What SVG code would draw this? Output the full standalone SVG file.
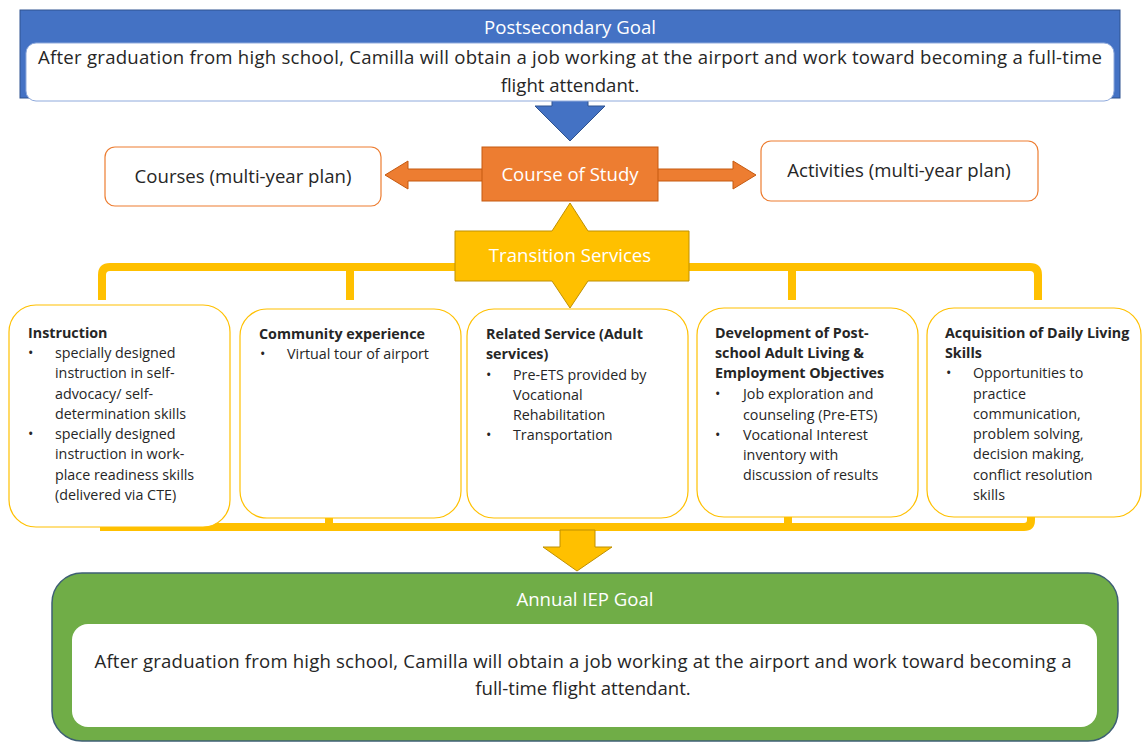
<svg xmlns="http://www.w3.org/2000/svg" width="1143" height="742" viewBox="0 0 1143 742">
  <style>
    text { font-family: "Open Sans", "Liberation Sans", sans-serif; fill: #262626; }
    .big { font-size: 18.6px; }
    .mid { font-size: 18.6px; }
    .light { fill: #ffffff; }
    .c { text-anchor: middle; }
    .item { font-size: 14.3px; }
    .head { font-size: 14.3px; font-weight: bold; }
    .svc { fill: #ffffff; stroke: #FFC000; stroke-width: 1.2; }
    .plan { fill: #ffffff; stroke: #ED7D31; stroke-width: 1.2; }
    .bar { fill: none; stroke: #FFC000; stroke-width: 8; stroke-linejoin: round; stroke-linecap: butt; }
  </style>

  <rect width="1143" height="742" fill="#ffffff"/>

  <!-- connectors -->
  <g id="connectors">
    <!-- goal down to course of study -->
    <path d="M552,96 H588 V106 H605 L570,141 L535,106 H552 Z" fill="#4472C4" stroke="#2F528F" stroke-width="1"/>
    <!-- course of study out to courses and activities -->
    <path d="M385,175 L408,161 V169 H733 V161 L756,175 L733,189 V181 H408 V189 Z" fill="#ED7D31" stroke="#C55A11" stroke-width="1"/>
    <!-- transition services bracket to the five services -->
    <path class="bar" d="M102,300 V275 Q102,267 110,267 H1030 Q1038,267 1038,275 V300"/>
    <path class="bar" d="M350,267 V300"/>
    <path class="bar" d="M792,267 V300"/>
    <!-- services gathered into the annual goal -->
    <path class="bar" d="M100,527 H1024 Q1031,527 1031,520 V510"/>
    <path class="bar" d="M329,527 V512"/>
    <path class="bar" d="M788,527 V512"/>
    <path d="M560,530 H595 V547 H612 L577,571 L543,547 H560 Z" fill="#FFC000" stroke="#BF9000" stroke-width="1"/>
  </g>

  <!-- postsecondary goal -->
  <g id="postsecondary-goal">
    <rect x="20" y="10" width="1100" height="88" fill="#4472C4" stroke="#2F528F" stroke-width="1"/>
    <text class="big light c" x="570" y="34">Postsecondary Goal</text>
    <rect x="26" y="43" width="1088" height="58" rx="10" fill="#ffffff" stroke="#8FAADC" stroke-width="1"/>
    <text class="big c" x="570" y="64" textLength="1064">After graduation from high school, Camilla will obtain a job working at the airport and work toward becoming a full-time</text>
    <text class="big c" x="570" y="92">flight attendant.</text>
  </g>

  <!-- course of study -->
  <g id="course-of-study">
    <rect x="482" y="147" width="176" height="54" fill="#ED7D31" stroke="#C55A11" stroke-width="1"/>
    <text class="mid light c" x="570" y="181">Course of Study</text>
  </g>

  <g id="courses">
    <rect class="plan" x="105" y="147" width="276" height="59" rx="10"/>
    <text class="mid c" x="243" y="183">Courses (multi-year plan)</text>
  </g>

  <g id="activities">
    <rect class="plan" x="761" y="141" width="277" height="60" rx="10"/>
    <text class="mid c" x="899" y="177">Activities (multi-year plan)</text>
  </g>

  <!-- transition services -->
  <g id="transition-services">
    <path d="M455,231 H552 L570,203 L588,231 H689 V281 H588 L570,308 L552,281 H455 Z" fill="#FFC000" stroke="#BF9000" stroke-width="1"/>
    <text class="mid light c" x="570" y="262">Transition Services</text>
  </g>

  <!-- service boxes -->
  <g id="instruction">
    <rect class="svc" x="9" y="305" width="221" height="222" rx="27"/>
    <text class="head" x="28" y="338">Instruction</text>
    <text class="item" x="28" y="358">•</text>
    <text class="item" x="55" y="358">specially designed</text>
    <text class="item" x="55" y="378">instruction in self-</text>
    <text class="item" x="55" y="398.5">advocacy/ self-</text>
    <text class="item" x="55" y="419">determination skills</text>
    <text class="item" x="28" y="439">•</text>
    <text class="item" x="55" y="439">specially designed</text>
    <text class="item" x="55" y="459">instruction in work-</text>
    <text class="item" x="55" y="480">place readiness skills</text>
    <text class="item" x="55" y="500">(delivered via CTE)</text>
  </g>

  <g id="community-experience">
    <rect class="svc" x="240" y="309" width="221" height="209" rx="27"/>
    <text class="head" x="259" y="339">Community experience</text>
    <text class="item" x="260" y="359">•</text>
    <text class="item" x="287" y="359">Virtual tour of airport</text>
  </g>

  <g id="related-service">
    <rect class="svc" x="467" y="309" width="221" height="209" rx="27"/>
    <text class="head" x="486" y="339">Related Service (Adult</text>
    <text class="head" x="486" y="359">services)</text>
    <text class="item" x="486" y="380">•</text>
    <text class="item" x="513" y="380">Pre-ETS  provided by</text>
    <text class="item" x="513" y="400">Vocational</text>
    <text class="item" x="513" y="420">Rehabilitation</text>
    <text class="item" x="486" y="440">•</text>
    <text class="item" x="513" y="440">Transportation</text>
  </g>

  <g id="post-school-objectives">
    <rect class="svc" x="697" y="308" width="221" height="209" rx="27"/>
    <text class="head" x="715" y="338">Development of Post-</text>
    <text class="head" x="715" y="358">school Adult Living &amp;</text>
    <text class="head" x="715" y="378">Employment Objectives</text>
    <text class="item" x="715" y="399">•</text>
    <text class="item" x="743" y="399">Job exploration and</text>
    <text class="item" x="743" y="419.5">counseling (Pre-ETS)</text>
    <text class="item" x="715" y="440">•</text>
    <text class="item" x="743" y="440">Vocational Interest</text>
    <text class="item" x="743" y="460">inventory with</text>
    <text class="item" x="743" y="480">discussion of results</text>
  </g>

  <g id="daily-living-skills">
    <rect class="svc" x="927" y="308" width="214" height="209" rx="27"/>
    <text class="head" x="945" y="338">Acquisition of Daily Living</text>
    <text class="head" x="945" y="358">Skills</text>
    <text class="item" x="946" y="378">•</text>
    <text class="item" x="973" y="378">Opportunities to</text>
    <text class="item" x="973" y="399">practice</text>
    <text class="item" x="973" y="419">communication,</text>
    <text class="item" x="973" y="439">problem solving,</text>
    <text class="item" x="973" y="459">decision making,</text>
    <text class="item" x="973" y="480">conflict resolution</text>
    <text class="item" x="973" y="500">skills</text>
  </g>

  <!-- annual IEP goal -->
  <g id="annual-iep-goal">
    <rect x="52" y="573" width="1066" height="168" rx="30" fill="#70AD47" stroke="#3E5F74" stroke-width="1.5"/>
    <text class="big light c" x="585" y="606">Annual IEP Goal</text>
    <rect x="72" y="624" width="1025" height="103" rx="16" fill="#ffffff"/>
    <text class="big c" x="583" y="668" textLength="977">After graduation from high school, Camilla will obtain a job working at the airport and work toward becoming a</text>
    <text class="big c" x="583" y="695">full-time flight attendant.</text>
  </g>
</svg>
